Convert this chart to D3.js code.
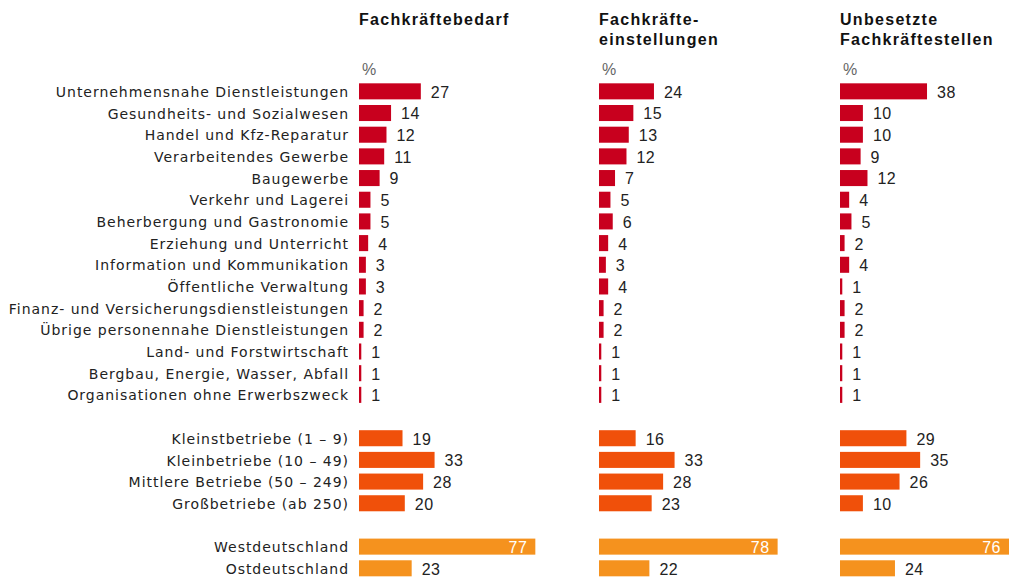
<!DOCTYPE html>
<html>
<head>
<meta charset="utf-8">
<script src="https://cdn.jsdelivr.net/npm/d3@7"></script>
<style>
  body { margin: 0; background: #fff; }
  svg { display: block; }
</style>
</head>
<body>
<svg id="chart" width="1009" height="579"></svg>
<script>
// ----------------------------------------------------------------------------
// Data
// ----------------------------------------------------------------------------
var branchen = [
  "Unternehmensnahe Dienstleistungen",
  "Gesundheits- und Sozialwesen",
  "Handel und Kfz-Reparatur",
  "Verarbeitendes Gewerbe",
  "Baugewerbe",
  "Verkehr und Lagerei",
  "Beherbergung und Gastronomie",
  "Erziehung und Unterricht",
  "Information und Kommunikation",
  "Öffentliche Verwaltung",
  "Finanz- und Versicherungsdienstleistungen",
  "Übrige personennahe Dienstleistungen",
  "Land- und Forstwirtschaft",
  "Bergbau, Energie, Wasser, Abfall",
  "Organisationen ohne Erwerbszweck"
]
var groessen = [
  "Kleinstbetriebe (1 – 9)",
  "Kleinbetriebe (10 – 49)",
  "Mittlere Betriebe (50 – 249)",
  "Großbetriebe (ab 250)"
]
var regionen = ["Westdeutschland", "Ostdeutschland"]

var panels = ["Fachkräftebedarf", "Fachkräfte-\neinstellungen", "Unbesetzte\nFachkräftestellen"]

// values per panel: branchen, groessen, regionen
var bedarf      = [27, 14, 12, 11, 9, 5, 5, 4, 3, 3, 2, 2, 1, 1, 1,  19, 33, 28, 20,  77, 23]
var einstellung = [24, 15, 13, 12, 7, 5, 6, 4, 3, 4, 2, 2, 1, 1, 1,  16, 33, 28, 23,  78, 22]
var unbesetzt   = [38, 10, 10, 9, 12, 4, 5, 2, 4, 1, 2, 2, 1, 1, 1,  29, 35, 26, 10,  76, 24]
var series = [bedarf, einstellung, unbesetzt]

var colors = { branche: "#c8001e", groesse: "#f0500a", region: "#f5921e" }

// ----------------------------------------------------------------------------
// Layout
// ----------------------------------------------------------------------------
var svg = d3.select("#chart")

// rows: branchen, gap, groessen, gap, regionen
var rows = []
branchen.forEach(function(b, i) { rows.push({ label: b, idx: i, group: "branche" }) })
rows.push(null)
groessen.forEach(function(b, i) { rows.push({ label: b, idx: branchen.length + i, group: "groesse" }) })
rows.push(null)
regionen.forEach(function(b, i) { rows.push({ label: b, idx: branchen.length + groessen.length + i, group: "region" }) })

var y = d3.scaleBand()
  .domain(d3.range(rows.length))
  .range([80.5, 80.5 + rows.length * 21.68])
  .paddingInner(0.26)
  .paddingOuter(0.13)

var x = d3.scaleLinear().domain([0, 100]).range([0, 229])

var panelX = [359, 599, 840]

var items = rows.map(function(r, i) { return r ? Object.assign({ row: i }, r) : null })
  .filter(function(r) { return r })

// category labels
svg.append("g").selectAll("text")
  .data(items)
  .enter().append("text")
  .attr("x", 349)
  .attr("y", function(d) { return y(d.row) + y.bandwidth() / 2 })
  .attr("dy", "0.4em")
  .attr("text-anchor", "end")
  .attr("font-family", "DejaVu Sans, Verdana, sans-serif")
  .attr("font-size", 14)
  .attr("letter-spacing", 0.97)
  .attr("fill", "#222")
  .text(function(d) { return d.label })

panels.forEach(function(title, p) {
  var g = svg.append("g").attr("transform", "translate(" + panelX[p] + ",0)")

  // header
  var head = g.append("text")
    .attr("x", 0)
    .attr("y", 25)
    .attr("font-family", "Liberation Sans, Arial, sans-serif")
    .attr("font-weight", "bold")
    .attr("font-size", 16)
    .attr("letter-spacing", 1.3)
    .attr("fill", "#111")
  title.split("\n").forEach(function(line, i) {
    head.append("tspan").attr("x", 0).attr("dy", i ? 20 : 0).text(line)
  })

  g.append("text")
    .attr("x", 3)
    .attr("y", 75)
    .attr("font-family", "Liberation Sans, Arial, sans-serif")
    .attr("font-size", 16)
    .attr("fill", "#666")
    .text("%")

  var vals = series[p]

  g.selectAll("rect")
    .data(items)
    .enter().append("rect")
    .attr("x", 0)
    .attr("y", function(d) { return y(d.row) })
    .attr("width", function(d) { return Math.max(x(vals[d.idx]), 2) })
    .attr("height", y.bandwidth())
    .attr("fill", function(d) { return colors[d.group] })

  g.selectAll("text.value")
    .data(items)
    .enter().append("text")
    .attr("class", "value")
    .attr("y", function(d) { return y(d.row) + y.bandwidth() / 2 })
    .attr("dy", "0.4em")
    .attr("font-family", "Liberation Sans, Arial, sans-serif")
    .attr("font-size", 16)
    .attr("letter-spacing", 0.5)
    .each(function(d) {
      var v = vals[d.idx], w = Math.max(x(v), 2), t = d3.select(this)
      if (v > 50) {
        t.attr("x", Math.min(w, 1009 - panelX[p]) - 8).attr("text-anchor", "end").attr("fill", "#fff")
      } else {
        t.attr("x", w + 10).attr("text-anchor", "start").attr("fill", "#222")
      }
    })
    .text(function(d) { return vals[d.idx] })
})
</script>
</body>
</html>
